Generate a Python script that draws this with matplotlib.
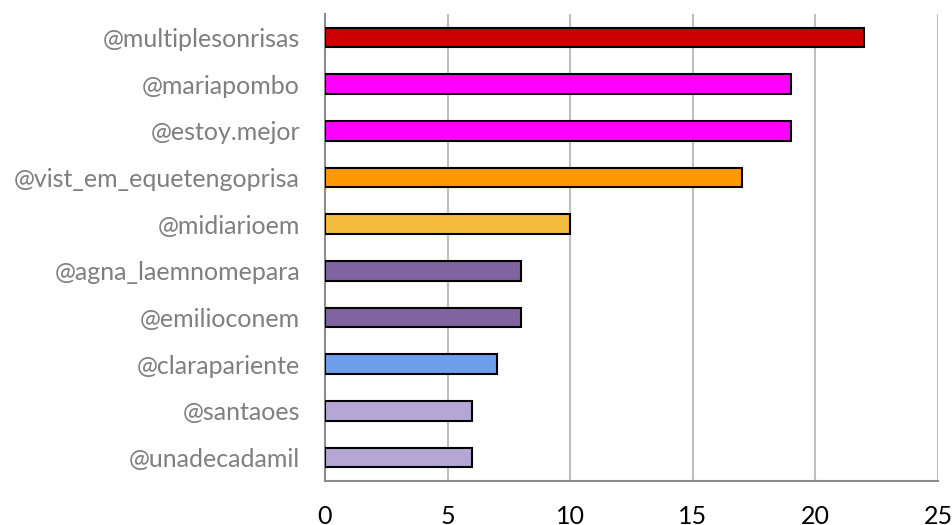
import matplotlib
matplotlib.use("Agg")
import matplotlib.pyplot as plt

categories = ["@multiplesonrisas", "@mariapombo", "@estoy.mejor", "@vist_em_equetengoprisa",
              "@midiarioem", "@agna_laemnomepara", "@emilioconem", "@clarapariente",
              "@santaoes", "@unadecadamil"]
values = [22, 19, 19, 17, 10, 8, 8, 7, 6, 6]
colors = ["#CC0000", "#FF00FF", "#FF00FF", "#FF9900", "#F4BC3C", "#8064A2", "#8064A2",
          "#6D9EEB", "#B4A7D6", "#B4A7D6"]
xticks = [0, 5, 10, 15, 20, 25]

plt.rcParams['font.family'] = ['Lato', 'DejaVu Sans']
fig = plt.figure(figsize=(9.52, 5.25), dpi=100)
ax = fig.add_axes([325/952, 1-481/525, (938-325)/952, (481-14)/525])

ypos = list(range(len(categories)))
ax.barh(ypos, values, height=0.42, color=colors, edgecolor="black", linewidth=1.5, zorder=3)
ax.set_ylim(len(categories)-0.5, -0.5)
ax.set_xlim(0, 25)
ax.set_xticks(xticks)
ax.set_xticklabels([str(t) for t in xticks], fontsize=18, color="black")
ax.set_yticks(ypos)
ax.set_yticklabels(categories, fontsize=18, color="#7F7F7F")
ax.tick_params(axis="both", length=0)
ax.tick_params(axis="x", pad=17)
ax.tick_params(axis="y", pad=18)
ax.grid(axis="x", color="#BFBFBF", linewidth=1.5, zorder=0)
for s in ["top", "right"]:
    ax.spines[s].set_visible(False)
ax.spines["left"].set_color("#8C8C8C")
ax.spines["left"].set_linewidth(1.5)
ax.spines["bottom"].set_color("#8C8C8C")
ax.spines["bottom"].set_linewidth(1.5)
fig.savefig("out.png", dpi=100)
